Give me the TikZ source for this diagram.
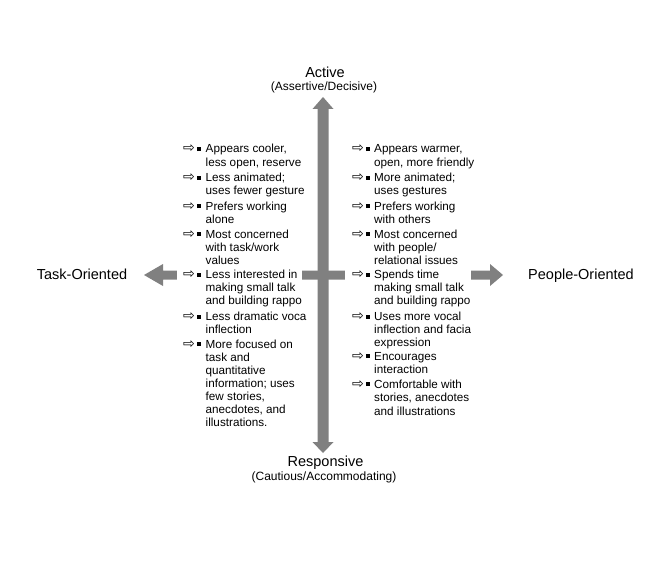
\documentclass[tikz,border=0pt]{standalone}
\usepackage{fontspec}
\setmainfont{Liberation Sans}
\newfontfamily\symfont{DejaVu Sans}
\definecolor{axisgray}{RGB}{128,128,128}
\tikzset{
  bodytext/.style={anchor=base west, inner sep=0pt, font=\fontsize{11.7}{13}\selectfont},
  bulletmark/.style={anchor=base west, inner sep=0pt, font=\fontsize{11}{13}\selectfont},
  biglabel/.style={anchor=base, inner sep=0pt, font=\fontsize{14.5}{17}\selectfont},
  sublabel/.style={anchor=base, inner sep=0pt, font=\fontsize{12}{14}\selectfont},
  axisfill/.style={fill=axisgray, draw=none},
  coverbox/.style={fill=white, draw=none}
}
\newcommand{\bmark}{{\symfont\fontsize{14}{14}\selectfont ⇨}\hspace{2.5pt}\rule[1.8pt]{4pt}{4pt}}
\begin{document}
\begin{tikzpicture}[x=1pt,y=-1pt]
\useasboundingbox (0,0) rectangle (652,564);
\fill[white] (0,0) rectangle (652,564);
% vertical axis arrow
\fill[axisfill] (323,97) -- (333.5,109) -- (328.5,109) -- (328.5,442) -- (333.5,442)
  -- (323,453) -- (312.5,442) -- (317.5,442) -- (317.5,109) -- (312.5,109) -- cycle;
% horizontal axis arrow
\fill[axisfill] (144,275) -- (163,264) -- (163,270.5) -- (490,270.5) -- (490,264)
  -- (503,275) -- (490,286) -- (490,279.5) -- (163,279.5) -- (163,286) -- cycle;
% text boxes (white)
\fill[coverbox] (177,135) rectangle (302,435);
\fill[coverbox] (345,135) rectangle (471,430);
% axis labels
\node[biglabel] (active) at (325,77.5) {Active};
\node[sublabel] (assert) at (324,91) {(Assertive/Decisive)};
\node[biglabel] (resp) at (325.5,466.5) {Responsive};
\node[sublabel] (caut) at (324,480) {(Cautious/Accommodating)};
\node[biglabel] (task) at (82,279) {Task-Oriented};
\node[biglabel] (people) at (581,279) {People-Oriented};
% left column markers
\foreach \y [count=\i] in {153,181.5,210,238,278.5,320.5,348}
  \node[bulletmark] (LM\i) at (183,\y) {\bmark};
% right column markers
\foreach \y [count=\i] in {153,181.5,210,238,278.5,320.5,360,388}
  \node[bulletmark] (RM\i) at (352,\y) {\bmark};
% left column text
\foreach \y/\t [count=\i] in {
  153/{Appears cooler,}, 166/{less open, reserve},
  181.5/{Less animated;}, 194.5/{uses fewer gesture},
  210/{Prefers working}, 223/{alone},
  238/{Most concerned}, 251/{with task/work}, 264/{values},
  278.5/{Less interested in}, 291.5/{making small talk}, 304.5/{and building rappo},
  320.5/{Less dramatic voca}, 333.5/{inflection},
  348/{More focused on}, 361/{task and}, 374/{quantitative}, 387/{information; uses},
  400/{few stories,}, 413/{anecdotes, and}, 426/{illustrations.}}
  \node[bodytext] (L\i) at (205.5,\y) {\t};
% right column text
\foreach \y/\t [count=\i] in {
  153/{Appears warmer,}, 166/{open, more friendly},
  181.5/{More animated;}, 194.5/{uses gestures},
  210/{Prefers working}, 223/{with others},
  238/{Most concerned}, 251/{with people/}, 264/{relational issues},
  278.5/{Spends time}, 291.5/{making small talk}, 304.5/{and building rappo},
  320.5/{Uses more vocal}, 333.5/{inflection and facia}, 346.5/{expression},
  360/{Encourages}, 373/{interaction},
  388/{Comfortable with}, 401/{stories, anecdotes}, 415/{and illustrations}}
  \node[bodytext] (R\i) at (374,\y) {\t};
\end{tikzpicture}
\end{document}
